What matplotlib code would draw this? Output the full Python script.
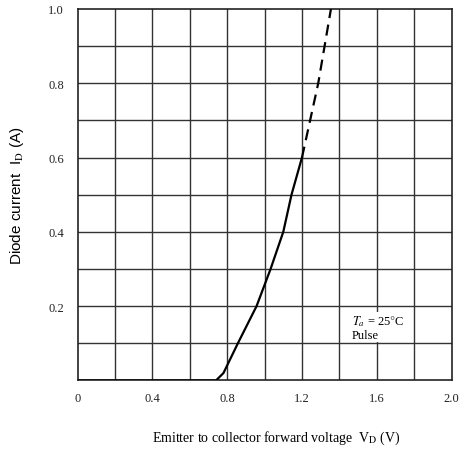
import matplotlib
matplotlib.use('Agg')
import matplotlib.pyplot as plt
import numpy as np

# forward characteristic
v_solid = [0.0, 0.74, 0.78, 0.857, 0.957, 1.032, 1.10, 1.144, 1.20]
i_solid = [0.0, 0.0, 0.02, 0.10, 0.20, 0.30, 0.40, 0.50, 0.60]
v_dash = [1.20, 1.287, 1.355]
i_dash = [0.60, 0.80, 1.00]

x_ticks = [0, 0.4, 0.8, 1.2, 1.6, 2.0]
x_tick_labels = ['0', '0.4', '0.8', '1.2', '1.6', '2.0']
y_ticks = [0.2, 0.4, 0.6, 0.8, 1.0]
y_tick_labels = ['0.2', '0.4', '0.6', '0.8', '1.0']

plt.rcParams['font.family'] = ['Liberation Serif', 'DejaVu Serif']
plt.rcParams['mathtext.fontset'] = 'stix'

fig = plt.figure(figsize=(4.65, 4.52), dpi=100)
ax = fig.add_axes([0.167, 0.156, 0.804, 0.822])

# grid every 0.2 V and 0.1 A
for gx in np.arange(0.2, 2.0, 0.2):
    ax.axvline(gx, color='#333333', lw=1.0, zorder=1)
for gy in np.arange(0.1, 1.0, 0.1):
    ax.axhline(gy, color='#333333', lw=1.0, zorder=1)

ax.plot(v_solid, i_solid, color='black', lw=1.6, zorder=3)
ax.plot(v_dash, i_dash, color='black', lw=1.6, ls=(0, (5, 3)), zorder=3)

ax.set_xlim(0, 2.0)
ax.set_ylim(0, 1.0)
ax.set_xticks(x_ticks)
ax.set_xticklabels(x_tick_labels)
ax.set_yticks(y_ticks)
ax.set_yticklabels(y_tick_labels)
ax.tick_params(length=0, labelsize=9, colors='#222222')
ax.tick_params(axis='x', pad=8)
ax.tick_params(axis='y', pad=10)
for s in ax.spines.values():
    s.set_linewidth(1.2)
    s.set_color('#222222')

ax.text(1.465, 0.115, '$T_a$ = 25$\\degree$C\nPulse', fontsize=9, zorder=4,
        linespacing=1.1,
        bbox=dict(facecolor='white', edgecolor='none', pad=0.5))

ax.set_xlabel(r'Emitter to collector forward voltage  V$_\mathrm{D}$ (V)', fontsize=10)
ax.xaxis.set_label_coords(0.53, -0.13)
ax.set_ylabel(r'Diode current  I$_\mathrm{D}$ (A)', fontsize=11, labelpad=16,
              family=['Liberation Sans', 'DejaVu Sans'])

fig.savefig('out.png', dpi=100)
